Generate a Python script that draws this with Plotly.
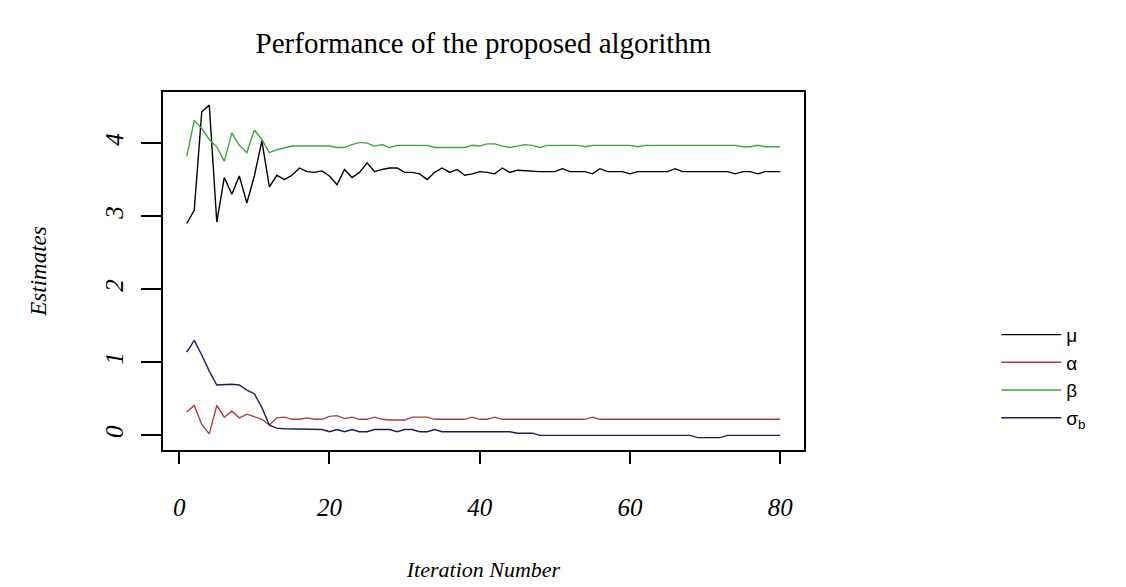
import plotly.graph_objects as go

iterations = list(range(1, 81))

mu = [2.90, 3.08, 4.43, 4.52, 2.92, 3.53, 3.30, 3.55, 3.18, 3.55,
      4.03, 3.40, 3.56, 3.50, 3.56, 3.66, 3.61, 3.60, 3.62, 3.55,
      3.43, 3.64, 3.53, 3.60, 3.73, 3.61, 3.64, 3.66, 3.66, 3.60,
      3.60, 3.58, 3.50, 3.60, 3.66, 3.60, 3.64, 3.56, 3.58, 3.61,
      3.60, 3.58, 3.66, 3.60, 3.63, 3.62, 3.62, 3.61, 3.61, 3.61,
      3.65, 3.61, 3.61, 3.61, 3.58, 3.65, 3.61, 3.61, 3.61, 3.58,
      3.61, 3.61, 3.61, 3.61, 3.61, 3.65, 3.61, 3.61, 3.61, 3.61,
      3.61, 3.61, 3.61, 3.58, 3.61, 3.61, 3.58, 3.61, 3.61, 3.61]

alpha = [0.32, 0.41, 0.15, 0.02, 0.41, 0.25, 0.33, 0.24, 0.29, 0.25,
         0.22, 0.14, 0.24, 0.25, 0.22, 0.22, 0.24, 0.22, 0.22, 0.26,
         0.27, 0.23, 0.25, 0.22, 0.22, 0.25, 0.22, 0.21, 0.21, 0.21,
         0.25, 0.25, 0.25, 0.22, 0.22, 0.22, 0.22, 0.22, 0.25, 0.22,
         0.22, 0.25, 0.22, 0.22, 0.22, 0.22, 0.22, 0.22, 0.22, 0.22,
         0.22, 0.22, 0.22, 0.22, 0.25, 0.22, 0.22, 0.22, 0.22, 0.22,
         0.22, 0.22, 0.22, 0.22, 0.22, 0.22, 0.22, 0.22, 0.22, 0.22,
         0.22, 0.22, 0.22, 0.22, 0.22, 0.22, 0.22, 0.22, 0.22, 0.22]

beta = [3.82, 4.31, 4.20, 4.05, 3.95, 3.75, 4.14, 3.97, 3.87, 4.18,
        4.05, 3.87, 3.91, 3.94, 3.96, 3.96, 3.96, 3.97, 3.96, 3.96,
        3.94, 3.94, 3.98, 4.01, 4.00, 3.96, 3.98, 3.94, 3.97, 3.97,
        3.97, 3.97, 3.97, 3.94, 3.94, 3.94, 3.94, 3.94, 3.97, 3.96,
        3.99, 3.99, 3.96, 3.94, 3.96, 3.98, 3.97, 3.94, 3.97, 3.97,
        3.97, 3.97, 3.97, 3.95, 3.97, 3.97, 3.97, 3.97, 3.97, 3.97,
        3.95, 3.97, 3.97, 3.97, 3.97, 3.97, 3.97, 3.97, 3.97, 3.97,
        3.97, 3.97, 3.97, 3.97, 3.95, 3.95, 3.97, 3.95, 3.95, 3.95]

sigma_b = [1.14, 1.30, 1.10, 0.88, 0.69, 0.70, 0.70, 0.69, 0.62, 0.57,
           0.38, 0.14, 0.10, 0.09, 0.09, 0.09, 0.09, 0.08, 0.08, 0.05,
           0.08, 0.05, 0.08, 0.05, 0.05, 0.08, 0.08, 0.08, 0.05, 0.08,
           0.08, 0.05, 0.05, 0.08, 0.05, 0.05, 0.05, 0.05, 0.05, 0.05,
           0.05, 0.05, 0.05, 0.05, 0.03, 0.03, 0.03, 0.00, 0.00, 0.00,
           0.00, 0.00, 0.00, 0.00, 0.00, 0.00, 0.00, 0.00, 0.00, 0.00,
           0.00, 0.00, 0.00, 0.00, 0.00, 0.00, 0.00, 0.00, -0.03, -0.03,
           -0.03, -0.03, 0.00, 0.00, 0.00, 0.00, 0.00, 0.00, 0.00, 0.00]

x_ticks = [0, 20, 40, 60, 80]
y_ticks = [0, 1, 2, 3, 4]

series = [
    ("μ", mu, "#000000"),
    ("α", alpha, "#A8403F"),
    ("β", beta, "#3CA83C"),
    ("σ<sub>b</sub>", sigma_b, "#1E1E5A"),
]

fig = go.Figure()
for name, vals, col in series:
    fig.add_trace(go.Scatter(x=iterations, y=vals, mode="lines", name=name,
                             line=dict(color=col, width=1.4)))

serif = "Liberation Serif"

fig.update_layout(
    width=1126, height=587,
    margin=dict(l=163, r=322, t=92, b=137, autoexpand=False),
    paper_bgcolor="white", plot_bgcolor="white",
    title=dict(text="Performance of the proposed algorithm",
               font=dict(family=serif, size=29, color="black"),
               x=(163 + 804) / 2 / 1126, xanchor="center",
               y=1 - 43 / 587, yanchor="middle"),
    legend=dict(x=1.30, xanchor="left", y=0.375, yanchor="top",
                itemwidth=60,
                font=dict(family="Liberation Sans", size=19, color="black"),
                bgcolor="rgba(0,0,0,0)", tracegroupgap=0),
    showlegend=True,
)

fig.update_xaxes(
    range=[-2.16, 83.16], tickvals=x_ticks, ticktext=[str(v) for v in x_ticks],
    automargin=False,
    showgrid=False, zeroline=False, showline=True, mirror=True,
    linecolor="black", linewidth=1.5,
    ticks="outside", ticklen=12, tickwidth=1.5, tickcolor="black",
    ticklabelstandoff=22,
    tickfont=dict(family=serif, size=25, color="black", style="italic"),
    title=dict(text="Iteration Number", standoff=42,
               font=dict(family=serif, size=22, color="black", style="italic")),
)
fig.update_yaxes(
    range=[-0.2, 4.7], tickvals=y_ticks, ticktext=[str(v) for v in y_ticks],
    automargin=False,
    tickangle=-90,
    showgrid=False, zeroline=False, showline=True, mirror=True,
    linecolor="black", linewidth=1.5,
    ticks="outside", ticklen=20, tickwidth=1.5, tickcolor="black",
    ticklabelstandoff=8,
    tickfont=dict(family=serif, size=25, color="black", style="italic"),
    title=dict(text="Estimates", standoff=48,
               font=dict(family=serif, size=23, color="black", style="italic")),
)

fig.write_html("out.html")
